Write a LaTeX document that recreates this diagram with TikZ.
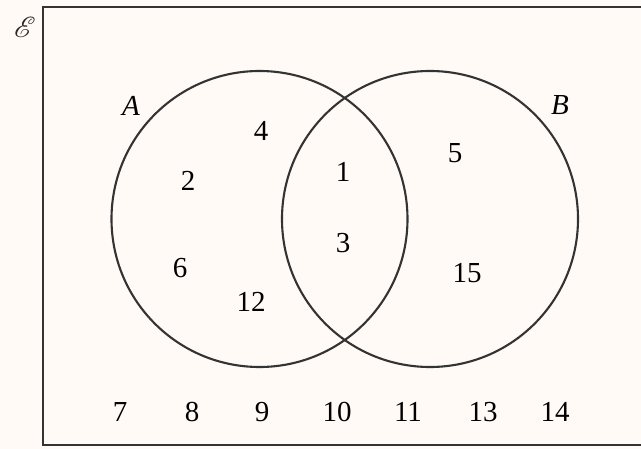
\documentclass[tikz,border=0pt]{standalone}
\usepackage{fontspec}
\setmainfont{Liberation Serif}
\usepackage{mathrsfs}
\begin{document}
\begin{tikzpicture}[x=1pt,y=-1pt,
  lbl/.style={font=\fontsize{29}{29}\selectfont, inner sep=0pt},
  setname/.style={font=\fontsize{29}{29}\selectfont\itshape, inner sep=0pt},
  ring/.style={draw=black!80, line width=2.1pt}]
\useasboundingbox[fill=white!96!orange] (0,0) rectangle (641,449);
\draw[black!80, line width=2.4pt] (655,7) -- (43,7) -- (43,445) -- (655,445);
\node[inner sep=0pt, text=black!85] (U) at (25,27) {\scalebox{2.9}{$\mathscr{E}$}};
\node[ring, circle, minimum size=296pt, inner sep=0pt] (cA) at (259.5,219) {};
\node[ring, circle, minimum size=296pt, inner sep=0pt] (cB) at (430,219) {};
\node[setname] (A) at (131,106) {A};
\node[setname] (B) at (560,105) {B};
\node[lbl] (n4) at (261,131) {4};
\node[lbl] (n2) at (188,181) {2};
\node[lbl] (n1) at (343,172) {1};
\node[lbl] (n5) at (455,153) {5};
\node[lbl] (n3) at (343,243) {3};
\node[lbl] (n6) at (180,268) {6};
\node[lbl] (n15) at (467,273) {15};
\node[lbl] (n12) at (251,302) {12};
\node[lbl] (n7) at (120,412) {7};
\node[lbl] (n8) at (192,412) {8};
\node[lbl] (n9) at (262,412) {9};
\node[lbl] (n10) at (337,412) {10};
\node[lbl] (n11) at (408,412) {11};
\node[lbl] (n13) at (483,412) {13};
\node[lbl] (n14) at (555,412) {14};
\end{tikzpicture}
\end{document}
